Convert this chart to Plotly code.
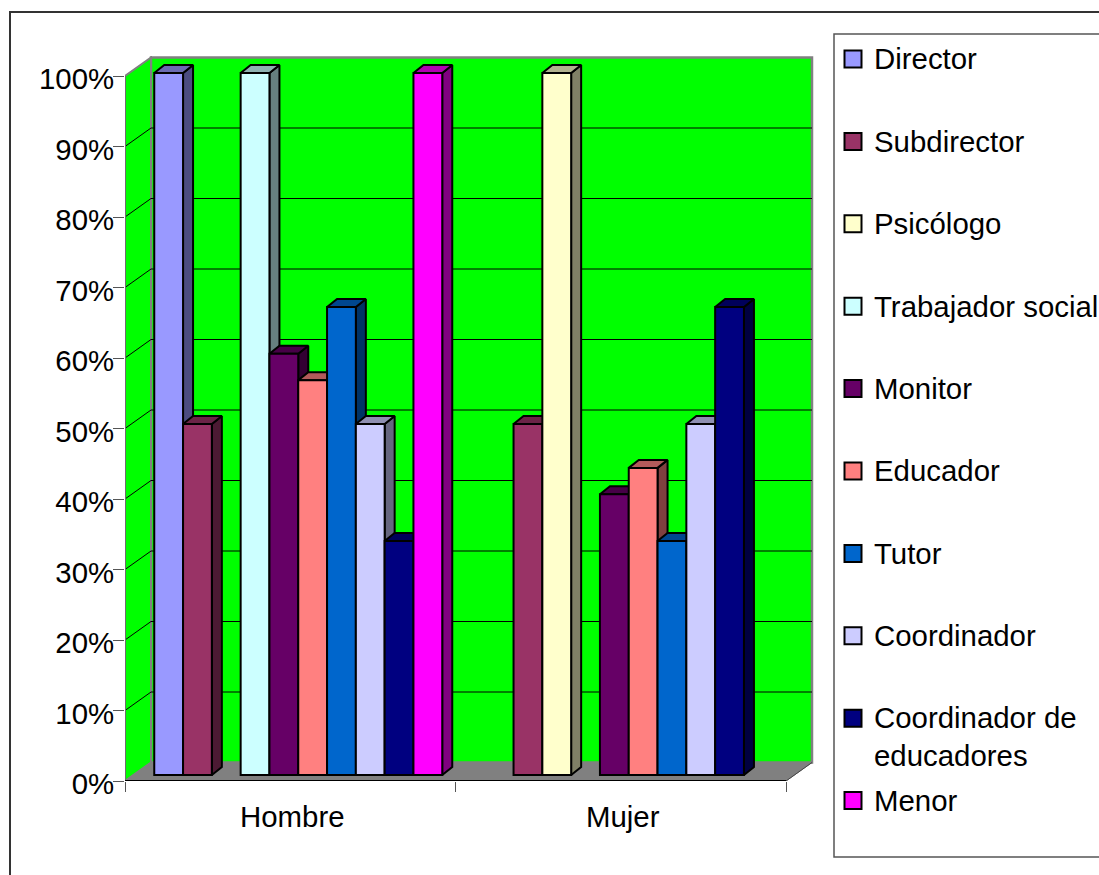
import plotly.graph_objects as go

# Survey shares by gender and staff role
categories = ["Hombre", "Mujer"]
roles = ["Director", "Subdirector", "Psicólogo", "Trabajador social", "Monitor",
         "Educador", "Tutor", "Coordinador", "Coordinador de<br>educadores", "Menor"]
director = [100, None]
subdirector = [50, 50]
psicologo = [None, 100]
trabajador_social = [100, None]
monitor = [60, 40]
educador = [56.25, 43.75]
tutor = [66.67, 33.33]
coordinador = [50, 50]
coordinador_educadores = [33.33, 66.67]
menor = [100, None]
series = [director, subdirector, psicologo, trabajador_social, monitor,
          educador, tutor, coordinador, coordinador_educadores, menor]
colors = ["#9999FF", "#993366", "#FFFFCC", "#CCFFFF", "#660066",
          "#FF8080", "#0066CC", "#CCCCFF", "#000080", "#FF00FF"]
percent_ticks = list(range(0, 101, 10))

W, H = 1099, 875
FONT = "Liberation Sans"
FONT_SIZE = 29.4

# Plot frame in pixels: front plane and the back wall behind it
FRONT_L, FRONT_R, FRONT_BOTTOM, FRONT_TOP = 125, 786, 781, 76
BACK_R, BACK_TOP = 812, 58
PX_X = (FRONT_R - FRONT_L) / len(categories)   # pixels per category
PX_Y = (FRONT_BOTTOM - FRONT_TOP) / 100        # pixels per percent point

x_max = (BACK_R - FRONT_L + 2) / PX_X
y_max = (FRONT_BOTTOM - BACK_TOP + 2) / PX_Y

# 3D offsets, in axis units
WALL_DX, WALL_DY = 26 / PX_X, 18.5 / PX_Y      # depth of the whole box
LIFT_DX, LIFT_DY = 8 / PX_X, 6 / PX_Y          # bars stand inside the floor
BAR_DX, BAR_DY = 10 / PX_X, 8 / PX_Y           # depth of a single bar
BAR_GAP = 42.5 / PX_X
BAR_SCALE = 702 / 705                          # bars sit slightly deeper than the front plane


def shade(hex_color, k):
    r, g, b = (int(hex_color[i:i + 2], 16) for i in (1, 3, 5))
    return f"rgb({round(r * k)},{round(g * k)},{round(b * k)})"


def px(x):
    return x / W


def py(y):
    return 1 - y / H


fig = go.Figure()

# Side and top faces, left to right, on the base axes
slot = (1 - BAR_GAP) / len(series)
for k, (values, color) in enumerate(zip(series, colors)):
    for c, v in enumerate(values):
        if v is None:
            continue
        x1 = c + 0.5 + LIFT_DX - (1 - BAR_GAP) / 2 + (k + 1) * slot
        x0 = x1 - slot
        y0, y1 = LIFT_DY, LIFT_DY + v * BAR_SCALE
        fig.add_trace(go.Scatter(
            x=[x1, x1 + BAR_DX, x1 + BAR_DX, x1, x1],
            y=[y0, y0 + BAR_DY, y1 + BAR_DY, y1, y0],
            mode="lines", fill="toself", fillcolor=shade(color, 0.5),
            line=dict(color="black", width=2), hoverinfo="skip", showlegend=False))
        fig.add_trace(go.Scatter(
            x=[x0, x1, x1 + BAR_DX, x0 + BAR_DX, x0],
            y=[y1, y1, y1 + BAR_DY, y1 + BAR_DY, y1],
            mode="lines", fill="toself", fillcolor=shade(color, 0.7),
            line=dict(color="black", width=2), hoverinfo="skip", showlegend=False))

# Front faces sit on an overlaid pair of axes so they cover neighbouring sides
bar_x = [i + 0.5 + LIFT_DX for i in range(len(categories))]
for name, values, color in zip(roles, series, colors):
    fig.add_trace(go.Bar(
        x=bar_x, y=values, base=LIFT_DY / BAR_SCALE, name=name.replace("<br>", " "),
        marker=dict(color=color, line=dict(color="black", width=2)),
        xaxis="x2", yaxis="y2", showlegend=False))

# Legend rows on their own axes
row_px, first_row = 82.4, 59
LEG_L, LEG_TOP, LEG_BOTTOM = 834, 34, 857
rows = list(range(len(roles)))
fig.add_trace(go.Scatter(
    x=[19] * len(rows), y=rows, mode="markers",
    marker=dict(symbol="square", size=17, color=colors, line=dict(color="black", width=2)),
    xaxis="x3", yaxis="y3", hoverinfo="skip", showlegend=False))

annotations = []
for r, name in zip(rows, roles):
    n_lines = name.count("<br>") + 1
    annotations.append(dict(
        x=40, y=r, xref="x3", yref="y3", text=name, showarrow=False,
        xanchor="left", yanchor="middle", align="left",
        yshift=-(n_lines - 1) * 18.5, xshift=-2,
        font=dict(family=FONT, size=FONT_SIZE, color="black")))

shapes = [
    # outer frame and legend box, both open toward the page edge
    dict(type="path", xref="paper", yref="paper",
         path=f"M{px(10)},0 L{px(10)},{py(12)} L1,{py(12)}",
         line=dict(color="#333333", width=2), layer="below"),
    dict(type="path", xref="paper", yref="paper",
         path=f"M1,{py(LEG_TOP)} L{px(LEG_L)},{py(LEG_TOP)} L{px(LEG_L)},{py(LEG_BOTTOM)} L1,{py(LEG_BOTTOM)}",
         line=dict(color="#555555", width=1.5), layer="below"),
    # back wall
    dict(type="rect", xref="x", yref="y", x0=WALL_DX, x1=WALL_DX + len(categories),
         y0=WALL_DY, y1=100 + WALL_DY,
         fillcolor="#00FF00", line=dict(color="#808080", width=2.5), layer="below"),
    # left wall
    dict(type="path", xref="x", yref="y",
         path=f"M0,0 L{WALL_DX},{WALL_DY} L{WALL_DX},{100 + WALL_DY} L0,100 Z",
         fillcolor="#00FF00", line=dict(color="#808080", width=2), layer="below"),
    # floor
    dict(type="path", xref="x", yref="y",
         path=f"M0,0 L{WALL_DX},{WALL_DY} L{WALL_DX + len(categories)},{WALL_DY} L{len(categories)},0 Z",
         fillcolor="#808080", line=dict(color="#808080", width=1), layer="below"),
]
# gridlines along the left wall and across the back wall
for t in percent_ticks[1:-1]:
    shapes.append(dict(type="path", xref="x", yref="y",
                       path=f"M0,{t} L{WALL_DX},{t + WALL_DY} L{WALL_DX + len(categories)},{t + WALL_DY}",
                       line=dict(color="black", width=1), layer="below"))
# front edges of the box
shapes.append(dict(type="line", xref="x", yref="y", x0=0, x1=0, y0=0, y1=100,
                   line=dict(color="#6E6E6E", width=2), layer="below"))
shapes.append(dict(type="line", xref="x", yref="y", x0=0, x1=len(categories), y0=0, y1=0,
                   line=dict(color="black", width=2), layer="below"))
shapes.append(dict(type="line", xref="x", yref="y", x0=len(categories), x1=len(categories) + WALL_DX,
                   y0=0, y1=WALL_DY, line=dict(color="#444444", width=1), layer="below"))

tick_font = dict(family=FONT, size=FONT_SIZE, color="black")
fig.update_layout(
    template="none",
    width=W, height=H, margin=dict(l=0, r=0, t=0, b=0, pad=0, autoexpand=False),
    paper_bgcolor="white", plot_bgcolor="rgba(0,0,0,0)",
    showlegend=False, barmode="group", bargap=BAR_GAP, bargroupgap=0,
    font=dict(family=FONT, size=FONT_SIZE, color="black"),
    shapes=shapes, annotations=annotations,
    xaxis=dict(
        automargin=False,
        domain=[px(FRONT_L), px(BACK_R + 2)], range=[0, x_max], anchor="y",
        tickmode="array", tickvals=[i + 0.5 for i in range(len(categories))], ticktext=categories,
        ticks="outside", ticklen=10, tickcolor="rgba(0,0,0,0)", tickfont=tick_font,
        ticklabelshift=2,
        minor=dict(tickmode="array", tickvals=list(range(len(categories) + 1)), ticks="outside",
                   ticklen=10, tickcolor="#555555", tickwidth=1, showgrid=False),
        showgrid=False, zeroline=False, showline=False),
    yaxis=dict(
        automargin=False,
        domain=[py(FRONT_BOTTOM), py(BACK_TOP - 2)], range=[0, y_max], anchor="x",
        tickmode="array", tickvals=percent_ticks, ticktext=[f"{t}%" for t in percent_ticks],
        ticks="outside", ticklen=11, tickcolor="#555555", tickwidth=1, tickfont=tick_font,
        ticklabelstandoff=-7, ticklabelshift=3,
        showgrid=False, zeroline=False, showline=False),
    xaxis2=dict(overlaying="x", domain=[px(FRONT_L), px(BACK_R + 2)], range=[0, x_max],
                visible=False, anchor="y2"),
    yaxis2=dict(overlaying="y", domain=[py(FRONT_BOTTOM), py(BACK_TOP - 2)],
                range=[0, y_max / BAR_SCALE], visible=False, anchor="x2"),
    xaxis3=dict(domain=[px(LEG_L), 1], range=[0, W - LEG_L], visible=False, anchor="y3"),
    yaxis3=dict(domain=[py(LEG_BOTTOM), py(LEG_TOP)],
                range=[(LEG_BOTTOM - first_row) / row_px, (LEG_TOP - first_row) / row_px],
                visible=False, anchor="x3"),
)

fig.write_html("out.html")
